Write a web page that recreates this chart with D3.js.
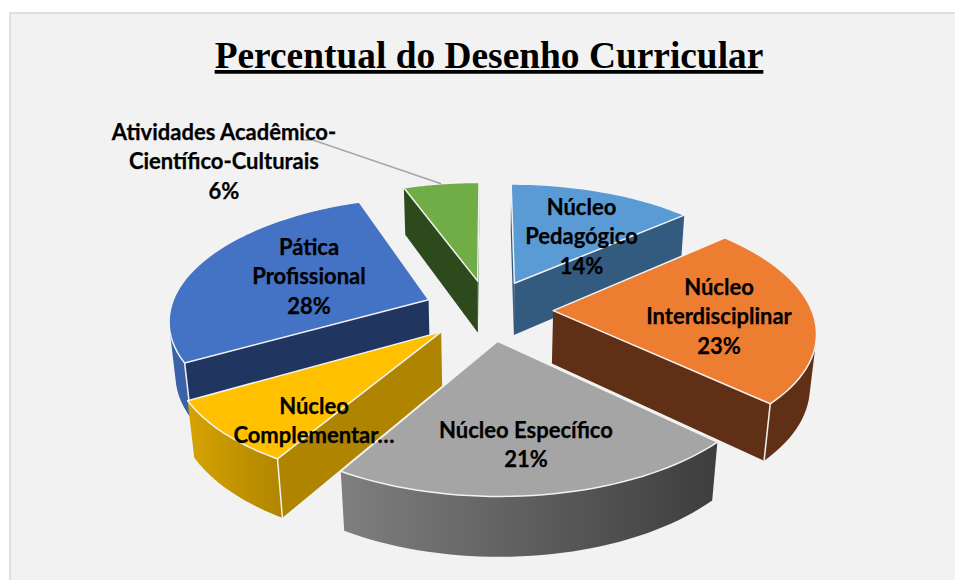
<!DOCTYPE html>
<html>
<head>
<meta charset="utf-8">
<script src="https://cdn.jsdelivr.net/npm/d3@7"></script>
<style>
  html, body { margin: 0; padding: 0; background: #fff; }
  svg { display: block; }
  text { font-family: Lato, sans-serif; font-weight: 700; fill: #000; text-anchor: middle; }
</style>
</head>
<body>
<div id="chart"></div>
<script>
const categories = ['Núcleo Pedagógico', 'Núcleo Interdisciplinar', 'Núcleo Específico', 'Núcleo Complementar', 'Pática Profissional', 'Atividades Acadêmico-Científico-Culturais']
// the labels show them rounded
const values = [13.6, 23.45, 21.49, 8.2, 27.7, 5.56]

// how each label is broken in the picture
const labelLines = [
  ['Núcleo', 'Pedagógico', '14%'],
  ['Núcleo', 'Interdisciplinar', '23%'],
  ['Núcleo Específico', '21%'],
  ['Núcleo', 'Complementar…'],
  ['Pática', 'Profissional', '28%'],
  ['Atividades Acadêmico-', 'Científico-Culturais', '6%']
]
const labelX = [581.5, 719, 526, 314, 309, 224]
const labelTop = [215, 295, 438, 414, 255, 140]

const topColors = ['#5b9bd5', '#ed7d31', '#a5a5a5', '#ffc000', '#4472c4', '#70ad47']
const sideColors = ['#335a7f', '#5f3015', '#444444', '#ae8400', '#203560', '#2c4a1c']
const outerLeft = ['#335a7f', '#5f3015', '#7f7f7f', '#d6a300', '#3a62a8', '#2c4a1c']
const outerRight = ['#335a7f', '#5f3015', '#3d3d3d', '#b08500', '#3a62a8', '#2c4a1c']

// slices are painted back to front
const paintOrder = [0, 5, 1, 4, 3, 2]

const width = 955
const height = 580

const svg = d3
  .select('#chart')
  .append('svg')
  .attr('width', width)
  .attr('height', height)

svg.append('rect')
  .attr('x', 10).attr('y', 13)
  .attr('width', 960).attr('height', 600)
  .attr('fill', '#f2f2f2')
  .attr('stroke', '#d9d9d9')
  .attr('stroke-width', 1.5)

svg.append('text')
  .text('Percentual do Desenho Curricular')
  .attr('x', 489)
  .attr('y', 68)
  .style('font-family', '"Liberation Serif", serif')
  .style('font-size', '37.4px')
  .style('text-decoration', 'underline')

const defs = svg.append('defs')

// 3D look of the pie: explode distance, perspective and thickness
const cx = 488.5
const cy = 310
const radiusX = 258.5
const radiusY = 121.5
const explode = 0.25
const perspective = 0.15
const depth = 54
const narrow = 0.02

function project(gx, gy, z) {
  const s = 1 + perspective * gy + narrow * z
  return [cx + radiusX * gx / s, cy - radiusY * gy / s + depth * z / s]
}

const pie = d3.pie().sort(null).value(d => d)
const arcs = pie(values)
const line = d3.line()

function polygon(points) {
  return line(points) + 'Z'
}

function area(points) {
  return d3.polygonArea(points)
}

paintOrder.forEach(i => {
  const a = arcs[i]
  const mid = (a.startAngle + a.endAngle) / 2
  const ox = explode * Math.sin(mid)
  const oy = explode * Math.cos(mid)
  const rim = d3.range(0, 41).map(k => a.startAngle + (a.endAngle - a.startAngle) * k / 40)
  const at = (t, z) => project(ox + Math.sin(t), oy + Math.cos(t), z)
  const g = svg.append('g')

  // outer wall, only the part turned to the viewer
  const front = rim.slice(0, -1).map((t, k) => {
    const q = [at(t, 0), at(rim[k + 1], 0), at(rim[k + 1], 1), at(t, 1)]
    return area(q) > 0
  })
  const first = front.indexOf(true)
  const last = front.lastIndexOf(true)
  if (first >= 0) {
    const seen = rim.slice(first, last + 2)
    const wall = seen.map(t => at(t, 0)).concat(seen.slice().reverse().map(t => at(t, 1)))
    const gid = 'outer-' + i
    const xs = d3.extent(wall, p => p[0])
    const grad = defs.append('linearGradient')
      .attr('id', gid)
      .attr('gradientUnits', 'userSpaceOnUse')
      .attr('x1', xs[0]).attr('x2', xs[1])
      .attr('y1', 0).attr('y2', 0)
    grad.append('stop').attr('offset', 0).attr('stop-color', outerLeft[i])
    grad.append('stop').attr('offset', 1).attr('stop-color', outerRight[i])
    g.append('path')
      .attr('d', polygon(wall))
      .attr('fill', 'url(#' + gid + ')')
  }

  // the two cut faces
  const apexTop = project(ox, oy, 0)
  const apexBottom = project(ox, oy, 1)
  ;[a.startAngle, a.endAngle].forEach((t, n) => {
    const face = n === 0
      ? [apexTop, at(t, 0), at(t, 1), apexBottom]
      : [at(t, 0), apexTop, apexBottom, at(t, 1)]
    if (area(face) <= 0) return
    g.append('path')
      .attr('d', polygon(face))
      .attr('fill', sideColors[i])
    const touches = n === 0 ? first === 0 : last === front.length - 1
    if (touches) {
      g.append('path')
        .attr('d', line([at(t, 0), at(t, 1)]))
        .attr('stroke', '#f2f2f2')
        .attr('stroke-width', 1.5)
    }
  })

  // top face
  g.append('path')
    .attr('d', polygon([apexTop].concat(rim.map(t => at(t, 0)))))
    .attr('fill', topColors[i])
    .attr('stroke', '#f2f2f2')
    .attr('stroke-width', 1.5)
    .attr('stroke-linejoin', 'round')
})

// leader line of the small slice
const small = arcs[5]
const smallMid = (small.startAngle + small.endAngle) / 2
const leaderEnd = project(
  explode * Math.sin(smallMid) + Math.sin(smallMid),
  explode * Math.cos(smallMid) + Math.cos(smallMid),
  0
)
svg.append('path')
  .attr('d', line([[303, 140], [313, 140], leaderEnd]))
  .attr('fill', 'none')
  .attr('stroke', '#a6a6a6')
  .attr('stroke-width', 1.5)

labelLines.forEach((lines, i) => {
  svg.append('text')
    .attr('y', labelTop[i])
    .style('font-size', '22px')
    .style('stroke', '#000')
    .style('stroke-width', 0.25)
    .selectAll('tspan')
    .data(lines)
    .enter()
    .append('tspan')
    .attr('x', labelX[i])
    .attr('y', (d, k) => labelTop[i] + k * 29.3)
    .text(d => d)
})
</script>
</body>
</html>
